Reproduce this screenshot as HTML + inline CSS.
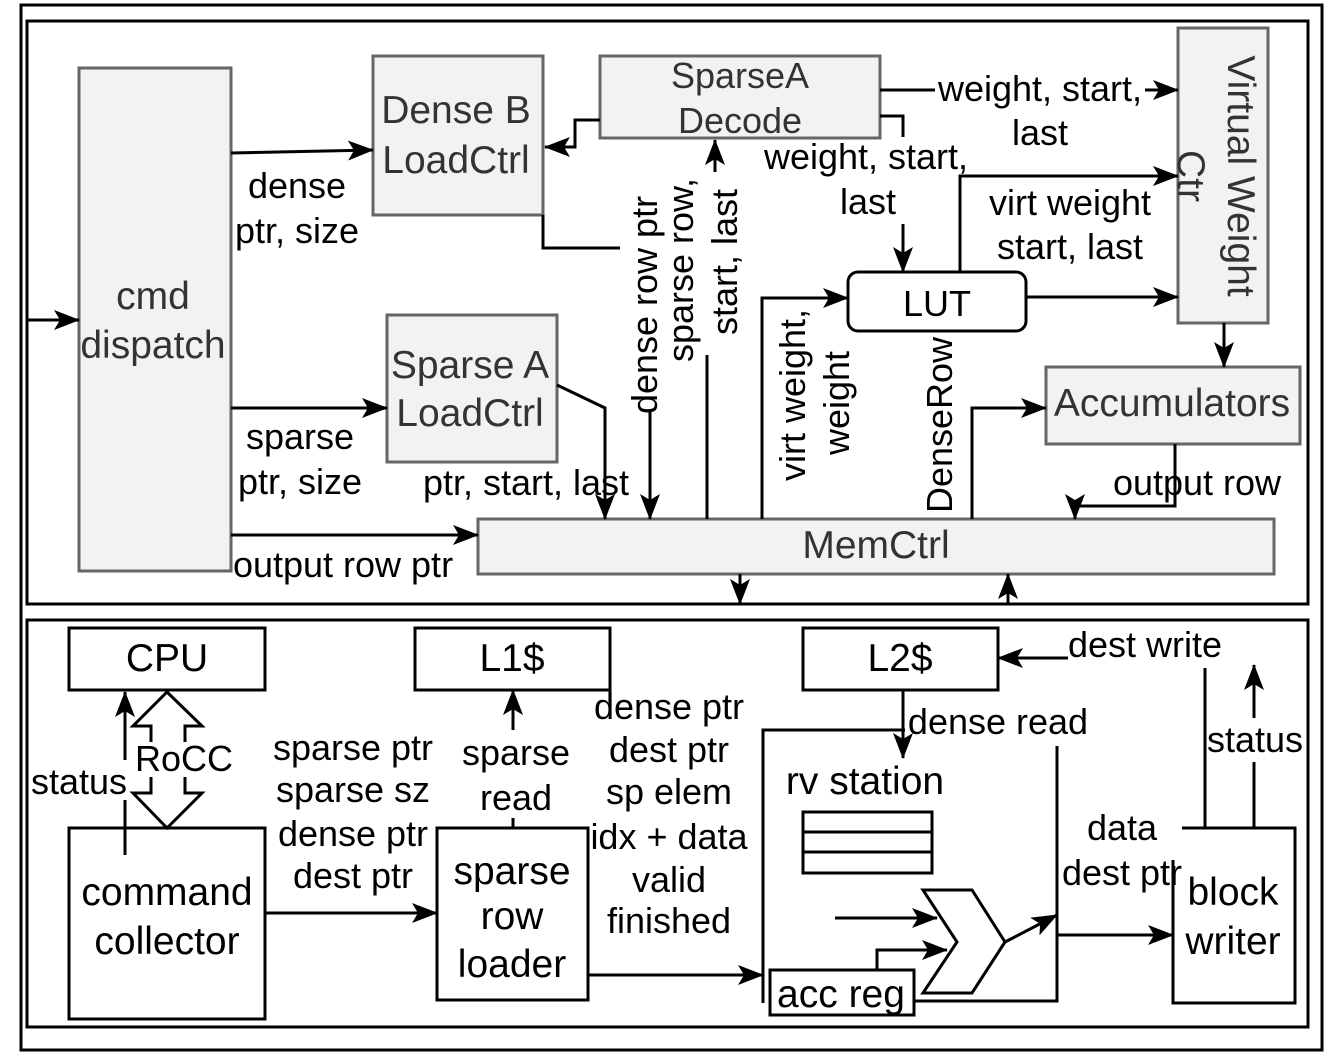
<!DOCTYPE html>
<html><head><meta charset="utf-8"><style>
html,body{margin:0;padding:0;background:#fff}
svg{display:block}
text{font-family:"Liberation Sans",Arial,sans-serif;font-size:36px;fill:#000}
.b{font-size:39px}
.g{fill:#333}
</style></head><body>
<svg width="1329" height="1062" viewBox="0 0 1329 1062" xmlns="http://www.w3.org/2000/svg">
<defs>
<marker id="a" viewBox="0 0 26 20" refX="25" refY="10" markerWidth="26" markerHeight="20" markerUnits="userSpaceOnUse" orient="auto">
<path d="M0,0 L26,10 L0,20 L6,10 Z" fill="#000"/></marker>
</defs>
<g fill="none" stroke="#000" stroke-width="3">
<rect x="21" y="5" width="1301" height="1045"/>
<rect x="27" y="21" width="1281" height="583"/>
<rect x="27" y="620" width="1281" height="407"/>
</g>
<g fill="#f2f2f2" stroke="#666" stroke-width="3">
<rect x="79" y="68" width="152" height="503"/>
<rect x="373" y="56" width="170" height="159"/>
<rect x="600" y="56" width="280" height="82"/>
<rect x="387" y="315" width="170" height="147"/>
<rect x="1178" y="28" width="90" height="295"/>
<rect x="1046" y="367" width="254" height="77"/>
<rect x="478" y="519" width="796" height="55"/>
</g>
<rect x="848" y="272" width="178" height="59" rx="10" fill="#fff" stroke="#000" stroke-width="3"/>
<g class="g" text-anchor="middle">
<text x="153" y="309" class="g b">cmd</text>
<text x="153" y="358" class="g b">dispatch</text>
<text x="456" y="123" class="g b">Dense B</text>
<text x="456" y="173" class="g b">LoadCtrl</text>
<text x="740" y="88" class="g" font-size="34">SparseA</text>
<text x="740" y="133" class="g" font-size="34">Decode</text>
<text x="470" y="378" class="g b">Sparse A</text>
<text x="470" y="426" class="g b">LoadCtrl</text>
<text x="1172" y="416" class="g b">Accumulators</text>
<text x="876" y="558" class="g b">MemCtrl</text>
<text transform="translate(1228,176) rotate(90)" class="g b">Virtual Weight</text>
<text transform="translate(1178,176) rotate(90)" class="g b">Ctr</text>
</g>
<text x="937" y="316" text-anchor="middle" font-size="40">LUT</text>
<g fill="none" stroke="#000" stroke-width="3">
<line x1="27" y1="320" x2="79" y2="320" marker-end="url(#a)"/>
<line x1="231" y1="153" x2="373" y2="150" marker-end="url(#a)"/>
<line x1="231" y1="408" x2="387" y2="408" marker-end="url(#a)"/>
<line x1="231" y1="535" x2="478" y2="535" marker-end="url(#a)"/>
<polyline points="543,215 543,248 620,248"/>
<line x1="650" y1="412" x2="650" y2="519" marker-end="url(#a)"/>
<polyline points="600,120 575,120 575,147 545,147" marker-end="url(#a)"/>
<line x1="707" y1="519" x2="707" y2="355"/>
<line x1="715" y1="172" x2="715" y2="140" marker-end="url(#a)"/>
<line x1="880" y1="90" x2="935" y2="90"/>
<line x1="1145" y1="90" x2="1178" y2="90" marker-end="url(#a)"/>
<polyline points="880,116 903,116 903,137"/>
<line x1="903" y1="224" x2="903" y2="272" marker-end="url(#a)"/>
<polyline points="960,272 960,176 1178,176" marker-end="url(#a)"/>
<line x1="1026" y1="297" x2="1178" y2="297" marker-end="url(#a)"/>
<line x1="1224" y1="323" x2="1224" y2="367" marker-end="url(#a)"/>
<polyline points="762,519 762,298 848,298" marker-end="url(#a)"/>
<polyline points="972,519 972,408 1046,408" marker-end="url(#a)"/>
<polyline points="1175,444 1175,506 1075,506 1075,519" marker-end="url(#a)"/>
<polyline points="557,385 605,408 605,519" marker-end="url(#a)"/>
<line x1="740" y1="574" x2="740" y2="604" marker-end="url(#a)"/>
<line x1="1008" y1="604" x2="1008" y2="574" marker-end="url(#a)"/>
</g>
<g text-anchor="middle">
<text x="297" y="198">dense</text>
<text x="297" y="243">ptr, size</text>
<text x="300" y="449">sparse</text>
<text x="300" y="494">ptr, size</text>
<text x="343" y="577">output row ptr</text>
<text x="526" y="495">ptr, start, last</text>
<text transform="translate(657,305) rotate(-90)">dense row ptr</text>
<text transform="translate(693,270) rotate(-90)">sparse row,</text>
<text transform="translate(737,262) rotate(-90)">start, last</text>
<text x="1040" y="101">weight, start,</text>
<text x="1040" y="145">last</text>
<text x="866" y="169">weight, start,</text>
<text x="868" y="214">last</text>
<text x="1070" y="215">virt weight</text>
<text x="1070" y="259">start, last</text>
<text transform="translate(805,395) rotate(-90)">virt weight,</text>
<text transform="translate(849,403) rotate(-90)">weight</text>
<text transform="translate(952,425) rotate(-90)">DenseRow</text>
<text x="1197" y="495">output row</text>
</g>
<g fill="none" stroke="#000" stroke-width="3">
<rect x="69" y="628" width="196" height="62"/>
<rect x="415" y="628" width="195" height="62"/>
<rect x="803" y="628" width="195" height="62"/>
<rect x="69" y="828" width="196" height="191"/>
<rect x="437" y="828" width="151" height="172"/>
<polyline points="1182,828 1295,828 1295,1003 1173,1003 1173,860"/>
<line x1="610" y1="690" x2="610" y2="700"/>
<polyline points="151,742 151,726 133,726 167,692 202,726 185,726 185,742"/>
<polyline points="151,777 151,793 133,793 167,828 202,793 185,793 185,777"/>
<line x1="125" y1="855" x2="125" y2="800"/>
<line x1="125" y1="760" x2="125" y2="692" marker-end="url(#a)"/>
<line x1="265" y1="913" x2="437" y2="913" marker-end="url(#a)"/>
<line x1="513" y1="828" x2="513" y2="818"/>
<line x1="513" y1="730" x2="513" y2="690" marker-end="url(#a)"/>
<line x1="588" y1="975" x2="763" y2="975" marker-end="url(#a)"/>
<polyline points="763,975 763,730 905,730"/>
<line x1="763" y1="975" x2="763" y2="1003"/>
<polyline points="1057,746 1057,1001 915,1001"/>
<rect x="770" y="970" width="144" height="45" fill="#fff"/>
<line x1="903" y1="690" x2="903" y2="758" marker-end="url(#a)"/>
<rect x="803" y="812" width="129" height="61"/>
<line x1="803" y1="832" x2="932" y2="832"/>
<line x1="803" y1="852" x2="932" y2="852"/>
<polygon points="923,890 972,890 1005,942 972,993 923,993 957,942" fill="#fff"/>
<line x1="835" y1="918" x2="937" y2="918" marker-end="url(#a)"/>
<polyline points="877,970 877,950 947,950" marker-end="url(#a)"/>
<line x1="1005" y1="942" x2="1057" y2="915" marker-end="url(#a)"/>
<line x1="1057" y1="935" x2="1173" y2="935" marker-end="url(#a)"/>
<line x1="1205" y1="828" x2="1205" y2="668"/>
<line x1="1068" y1="658" x2="998" y2="658" marker-end="url(#a)"/>
<line x1="1254" y1="828" x2="1254" y2="762"/>
<line x1="1254" y1="718" x2="1254" y2="665" marker-end="url(#a)"/>
</g>
<g text-anchor="middle">
<text x="167" y="671" class="b">CPU</text>
<text x="512" y="671" class="b">L1$</text>
<text x="900" y="671" class="b">L2$</text>
<text x="184" y="771">RoCC</text>
<text x="79" y="794">status</text>
<text x="167" y="905" class="b">command</text>
<text x="167" y="954" class="b">collector</text>
<text x="353" y="760">sparse ptr</text>
<text x="353" y="802">sparse sz</text>
<text x="353" y="846">dense ptr</text>
<text x="353" y="888">dest ptr</text>
<text x="516" y="765">sparse</text>
<text x="516" y="810">read</text>
<text x="512" y="884" class="b">sparse</text>
<text x="512" y="929" class="b">row</text>
<text x="512" y="977" class="b">loader</text>
<text x="669" y="719">dense ptr</text>
<text x="669" y="762">dest ptr</text>
<text x="669" y="804">sp elem</text>
<text x="669" y="849">idx + data</text>
<text x="669" y="892">valid</text>
<text x="669" y="933">finished</text>
<text x="998" y="734">dense read</text>
<text x="865" y="794" class="b">rv station</text>
<text x="841" y="1007" class="b">acc reg</text>
<text x="1122" y="840">data</text>
<text x="1122" y="885">dest ptr</text>
<text x="1233" y="905" class="b">block</text>
<text x="1233" y="954" class="b">writer</text>
<text x="1145" y="657">dest write</text>
<text x="1255" y="752">status</text>
</g>
</svg>
</body></html>
